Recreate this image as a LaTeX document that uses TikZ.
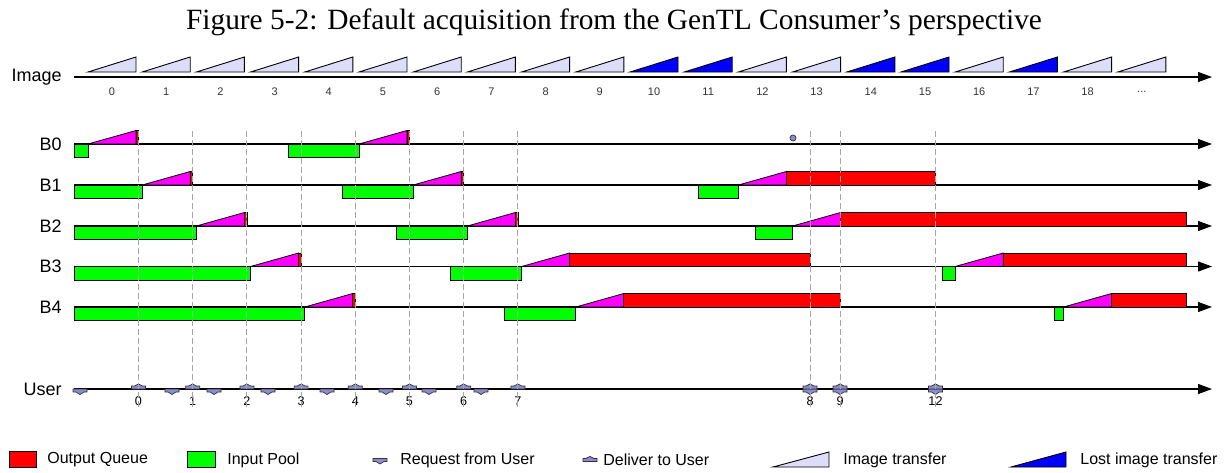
\documentclass[tikz,border=0pt]{standalone}
\usepackage{fontspec}
\setmainfont{Liberation Sans}
\newfontfamily\titlefont{Liberation Serif}
\usetikzlibrary{arrows.meta, positioning}

\definecolor{xferlight}{RGB}{221,221,250}
\definecolor{lostblue}{RGB}{0,0,255}
\definecolor{usermark}{RGB}{140,140,210}
\definecolor{xfermag}{RGB}{255,0,255}
\definecolor{queuered}{RGB}{255,0,0}
\definecolor{poolgreen}{RGB}{0,255,0}

% image k goes into a buffer row: magenta transfer, then output queue up to #3
\newcommand{\xfer}[3]{%
  \pgfmathsetmacro{\bxs}{88+54.2*#1}%
  \pgfmathsetmacro{\bxe}{\bxs+48}%
  \filldraw[transfer] (\bxs,#2) -- (\bxe,#2) -- (\bxe,#2-13.5) -- cycle;
  \filldraw[queue] (\bxe,#2) rectangle (#3,#2-13.5);
}
% buffer waiting in the input pool
\newcommand{\pool}[3]{\filldraw[inpool] (#1,#3) rectangle (#2,#3+13.5);}

\begin{document}
\begin{tikzpicture}[x=0.5pt, y=-0.5pt]
        \tikzset{
            lbl/.style={anchor=east, inner sep=0pt, font=\fontsize{9}{10}\selectfont},
            imgnum/.style={inner sep=0pt, text=black!80, font=\fontsize{5.5}{6}\selectfont},
            usernum/.style={inner sep=0pt, font=\fontsize{6.3}{7}\selectfont},
            legtext/.style={anchor=west, inner sep=0pt, font=\fontsize{8}{9}\selectfont},
            timeline/.style={line width=0.6pt, -{Triangle[length=7pt, width=5pt]}},
            slot/.style={draw=black, line width=0.45pt},
            transfer/.style={draw=black, line width=0.4pt, fill=xfermag},
            queue/.style={draw=black, line width=0.4pt, fill=queuered},
            inpool/.style={draw=black, line width=0.4pt, fill=poolgreen},
            usermk/.style={draw=black!80, line width=0.35pt, fill=usermark},
            guide/.style={gray!70, line width=0.5pt, dash pattern=on 3pt off 1.5pt},
            deliver/.pic={\filldraw[usermk] (-7,0) -- (-7,-3) -- (-4,-3) -- (0,-5) -- (4,-3) -- (7,-3) -- (7,0) -- cycle;},
            request/.pic={\filldraw[usermk] (-7,0) -- (-7,3) -- (-4,3) -- (0,5.5) -- (4,3) -- (7,3) -- (7,0) -- cycle;}
        }
        \useasboundingbox (0,0) rectangle (1228,472);

        % --- TITLE ---
        \node[font=\titlefont\fontsize{14.7}{17}\selectfont] (title) at (614,22) {Figure 5-2: Default acquisition from the GenTL Consumer’s perspective};

        % --- IMAGE ROW ---
        \node[lbl] (img) at (62,77) {Image};
        \coordinate (imgs) at (74,77);
        \coordinate (imge) at (1212,77);
        \draw[timeline] (imgs) -- (imge);
        \foreach \k/\c/\t in {0/xferlight/0, 1/xferlight/1, 2/xferlight/2, 3/xferlight/3, 4/xferlight/4,
                5/xferlight/5, 6/xferlight/6, 7/xferlight/7, 8/xferlight/8, 9/xferlight/9,
                10/lostblue/10, 11/lostblue/11, 12/xferlight/12, 13/xferlight/13, 14/lostblue/14,
                15/lostblue/15, 16/xferlight/16, 17/lostblue/17, 18/xferlight/18, 19/xferlight/{...}} {
            \pgfmathsetmacro{\bxs}{88+54.2*\k}
            \filldraw[slot, fill=\c] (\bxs,72) -- (\bxs+48,72) -- (\bxs+48,57) -- cycle;
            \node[imgnum] (n\k) at (\bxs+24,92) {\t};
        }

        % --- BUFFER ROWS ---
        \foreach \b/\y in {0/144, 1/185, 2/226, 3/266.5, 4/307} {
            \node[lbl] (b\b) at (62,\y) {B\b};
            \coordinate (bs\b) at (74,\y);
            \coordinate (be\b) at (1212,\y);
            \draw[timeline] (bs\b) -- (be\b);
        }

        % B0
        \pool{74}{88}{144}
        \xfer{0}{144}{138.5}
        \pool{288}{359}{144}
        \xfer{5}{144}{409.5}
        \filldraw[usermk] (793,138) circle (1.5pt);

        % B1
        \pool{74}{142.2}{185}
        \xfer{1}{185}{192.7}
        \pool{342.3}{413.2}{185}
        \xfer{6}{185}{463.7}
        \pool{698.3}{738.4}{185}
        \xfer{12}{185}{935.5}

        % B2
        \pool{74}{196.4}{226}
        \xfer{2}{226}{246.9}
        \pool{396}{467.4}{226}
        \xfer{7}{226}{517.9}
        \pool{755.3}{792.6}{226}
        \xfer{13}{226}{1186.7}

        % B3
        \pool{74}{250.6}{266.5}
        \xfer{3}{266.5}{301.1}
        \pool{450.7}{521.6}{266.5}
        \xfer{8}{266.5}{810}
        \pool{942.3}{955.2}{266.5}
        \xfer{16}{266.5}{1186.7}

        % B4
        \pool{74}{304.8}{307}
        \xfer{4}{307}{355.3}
        \pool{504.3}{575.8}{307}
        \xfer{9}{307}{840}
        \pool{1054.7}{1063.6}{307}
        \xfer{18}{307}{1186.7}

        % --- USER ROW ---
        \node[lbl] (user) at (62,389) {User};
        \coordinate (users) at (74,389);
        \coordinate (usere) at (1212,389);
        \draw[timeline] (users) -- (usere);
        \foreach \x in {80, 172, 214, 268, 327, 386, 429, 481, 810, 840, 935.5}
            \pic at (\x,389) {request};
        \foreach \d/\x in {0/138.5, 1/192.7, 2/246.9, 3/301.1, 4/355.3, 5/409.5, 6/463.7, 7/517.9, 8/810, 9/840, 12/935.5} {
            \pic at (\x,389) {deliver};
            \node[usernum] (u\d) at (\x,401.5) {\d};
        }

        % Guides from delivery down to the user row
        \foreach \d/\x in {0/138.5, 1/192.7, 2/246.9, 3/301.1, 4/355.3, 5/409.5, 6/463.7, 7/517.9, 8/810, 9/840, 12/935.5} {
            \coordinate (gt\d) at (\x,131);
            \coordinate (gb\d) at (\x,410);
            \draw[guide] (gt\d) -- (gb\d);
        }

        % --- LEGEND ---
        \filldraw[queue] (9.5,451) rectangle (36.5,467);
        \node[legtext] (lq) at (47,460) {Output Queue};
        \filldraw[inpool] (187,451) rectangle (215,467);
        \node[legtext] (lp) at (227,460) {Input Pool};
        \pic at (380,458.5) {request};
        \node[legtext] (lr) at (400,460) {Request from User};
        \pic at (590,461.5) {deliver};
        \node[legtext] (ld) at (603,460) {Deliver to User};
        \filldraw[slot, fill=xferlight] (773,467) -- (829,467) -- (829,452) -- cycle;
        \node[legtext] (lt) at (843,460) {Image transfer};
        \filldraw[slot, fill=lostblue] (1011,467) -- (1066,467) -- (1066,452) -- cycle;
        \node[legtext] (ll) at (1080,460) {Lost image transfer};

    \end{tikzpicture}
\end{document}
